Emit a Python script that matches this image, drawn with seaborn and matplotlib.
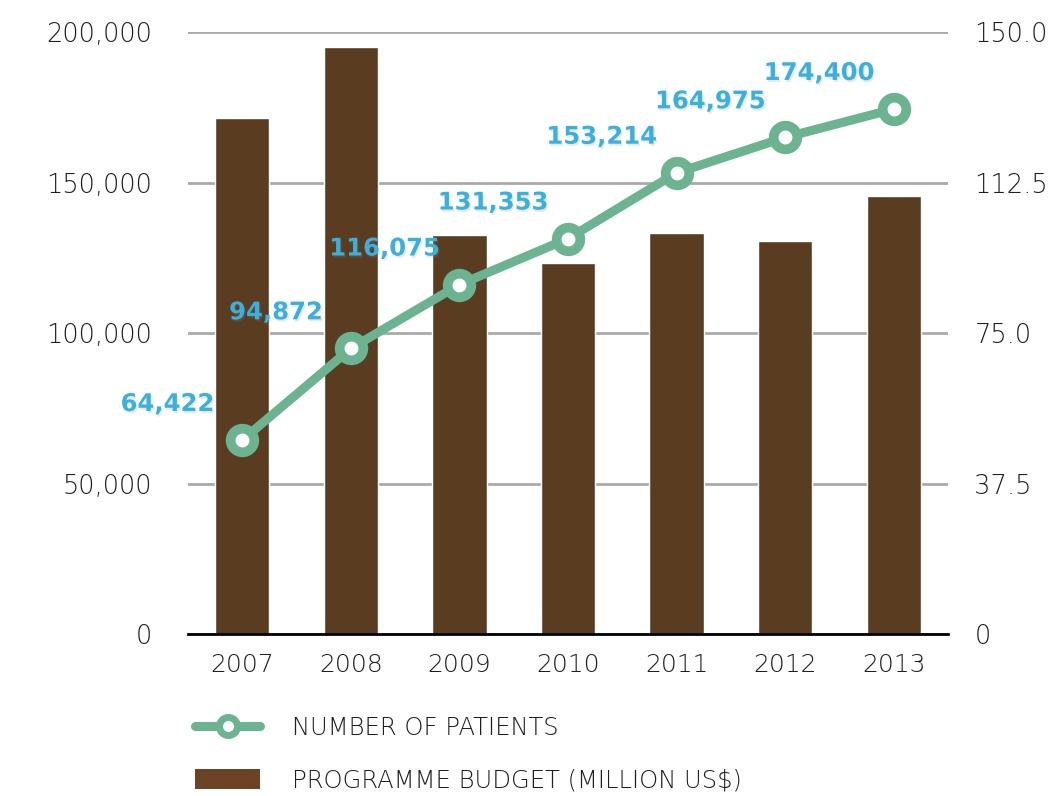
import numpy as np
import pandas as pd
import matplotlib
matplotlib.use("Agg")
import matplotlib.pyplot as plt
import matplotlib.patheffects as pe
from matplotlib.lines import Line2D
from matplotlib.patches import Patch
import seaborn as sns

years = ["2007", "2008", "2009", "2010", "2011", "2012", "2013"]
patients = [64422, 94872, 116075, 131353, 153214, 164975, 174400]
budget = [128.5, 146.2, 99.4, 92.4, 100.0, 97.9, 109.1]
left_ticks = [0, 50000, 100000, 150000, 200000]
left_labels = ["0", "50,000", "100,000", "150,000", "200,000"]
right_ticks = [0, 37.5, 75.0, 112.5, 150.0]
right_labels = ["0", "37.5", "75.0", "112.5", "150.0"]
legend_labels = ["NUMBER OF PATIENTS", "PROGRAMME BUDGET (MILLION US$)"]

GREEN = "#6BB391"
BROWN = "#5A3D21"
BROWN_LEG = "#6A4424"
BLUE = "#3AB0DF"
GRID = "#AAAAAA"
TXT = "#1E1E1E"

sns.set_theme(style="white")
plt.rcParams["font.family"] = ["DejaVu Sans"]

df = pd.DataFrame({"year": years, "patients": patients, "budget": budget})

fig = plt.figure(figsize=(10.53, 7.96), dpi=100)
ax1 = fig.add_axes([0.1785, 0.2035, 0.7218, 0.7563])
ax2 = ax1.twinx()

# bars on right axis
sns.barplot(data=df, x="year", y="budget", ax=ax2, color=BROWN, width=0.5,
            saturation=1, zorder=2)
ax2.set_ylim(0, 150)
ax2.set_yticks(right_ticks)
ax2.set_yticklabels(right_labels)
ax2.grid(axis="y", color=GRID, linewidth=2)
ax2.set_axisbelow(True)
ax2.set_ylabel("")

# line on left axis, on top
ax1.set_zorder(ax2.get_zorder() + 1)
ax1.patch.set_visible(False)
sns.pointplot(data=df, x="year", y="patients", ax=ax1, color=GREEN,
              errorbar=None, markers="o", linewidth=6.5,
              markersize=17, markerfacecolor="white",
              markeredgecolor=GREEN, markeredgewidth=7)
ax1.set_ylim(0, 200000)
ax1.set_xlim(-0.5, 6.5)
ax2.set_xlim(-0.5, 6.5)
ax1.set_yticks(left_ticks)
ax1.set_yticklabels(left_labels)
ax1.set_xlabel("")
ax1.set_ylabel("")

for i, v in enumerate(patients):
    ax1.annotate(f"{v:,}", (i, v), xytext=(-54, 26), textcoords="offset points",
                 ha="center", va="center", fontsize=17.5, fontweight="bold",
                 color=BLUE, zorder=5,
                 path_effects=[pe.withSimplePatchShadow(offset=(1, -1.5),
                                                        shadow_rgbFace="#888888",
                                                        alpha=0.18)])

for ax in (ax1, ax2):
    for s in ("top", "left", "right", "bottom"):
        ax.spines[s].set_visible(False)
ax1.spines["bottom"].set_visible(True)
ax1.spines["bottom"].set_color("black")
ax1.spines["bottom"].set_linewidth(2)

ax1.tick_params(axis="y", length=0, pad=26, labelsize=18.5, labelcolor=TXT)
ax2.tick_params(axis="y", length=0, pad=19, labelsize=18.5, labelcolor=TXT)
ax1.tick_params(axis="x", length=0, pad=14, labelsize=18, labelcolor=TXT)
ax2.tick_params(axis="x", length=0, labelbottom=False)
for t in ax1.get_yticklabels() + ax2.get_yticklabels() + ax1.get_xticklabels():
    t.set_fontweight("light")

handles = [
    Line2D([], [], color=GREEN, lw=6.5, marker="o", markersize=13,
           markerfacecolor="white", markeredgecolor=GREEN, markeredgewidth=5),
    Patch(facecolor=BROWN_LEG, edgecolor="none"),
]
fig.legend(handles, legend_labels, loc="upper left",
           bbox_to_anchor=(0.185, 0.100), frameon=False,
           handlelength=2.7, handleheight=0.95, handletextpad=1.3,
           labelspacing=1.15, borderpad=0, borderaxespad=0, numpoints=1,
           labelcolor=TXT, prop={"family": "DejaVu Sans", "weight": "light", "size": 17.5})

fig.savefig("out.png", dpi=100)
